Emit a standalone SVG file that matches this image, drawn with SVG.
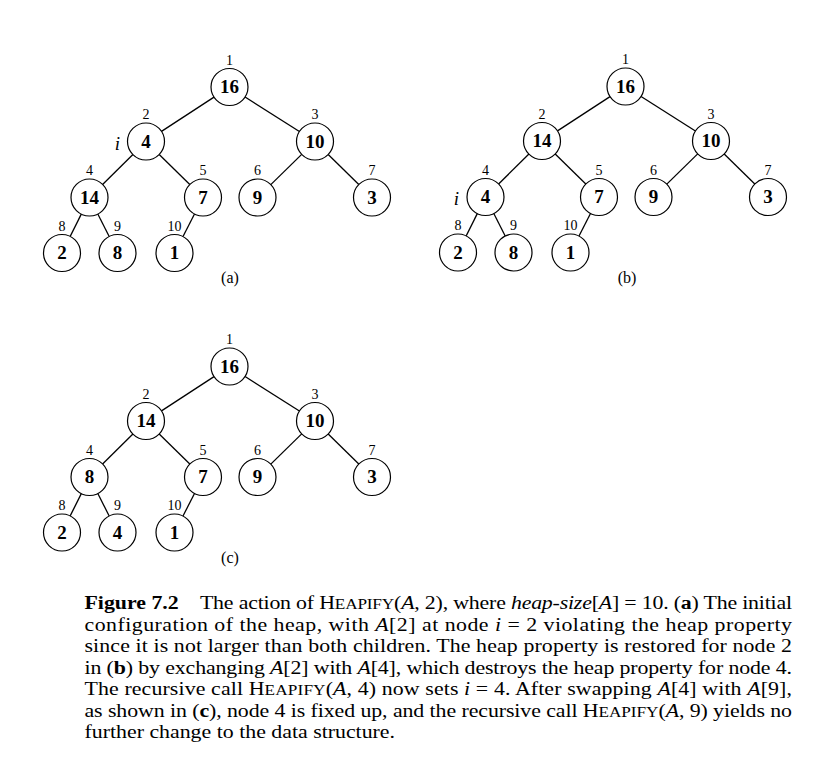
<svg xmlns="http://www.w3.org/2000/svg" width="836" height="771" viewBox="0 0 836 771">
<style>
  .edge { stroke: #000; stroke-width: 1.3; fill: none; }
  .node circle { fill: #fff; stroke: #000; stroke-width: 1.2; }
  .val { font-family: "Liberation Serif", "Times New Roman", serif; font-weight: bold; font-size: 19px; text-anchor: middle; fill: #000; }
  .idx { font-family: "Liberation Serif", "Times New Roman", serif; font-size: 14px; text-anchor: middle; fill: #000; }
  .iv { font-family: "Liberation Serif", "Times New Roman", serif; font-style: italic; font-size: 19px; text-anchor: middle; fill: #000; }
  .sub { font-family: "Liberation Serif", "Times New Roman", serif; font-size: 16px; text-anchor: middle; fill: #000; }
  .cap { font-family: "Liberation Serif", "Times New Roman", serif; font-size: 19px; fill: #000; }
  .it { font-style: italic; }
  .b { font-weight: bold; }
  .sc { font-size: 15px; }
</style>
<rect width="836" height="771" fill="#fff"/>

<g id="connectors">
  <g id="edges-a">
    <line class="edge" x1="214.0" y1="97.1" x2="161.5" y2="131.4"/>
    <line class="edge" x1="245.1" y1="97.0" x2="299.4" y2="131.5"/>
    <line class="edge" x1="132.9" y1="154.5" x2="102.6" y2="184.5"/>
    <line class="edge" x1="159.2" y1="154.5" x2="189.8" y2="184.5"/>
    <line class="edge" x1="301.7" y1="154.4" x2="270.8" y2="184.6"/>
    <line class="edge" x1="328.2" y1="154.5" x2="358.8" y2="184.5"/>
    <line class="edge" x1="81.3" y1="214.1" x2="70.2" y2="236.4"/>
    <line class="edge" x1="97.8" y1="214.0" x2="109.2" y2="236.5"/>
    <line class="edge" x1="194.5" y1="214.0" x2="183.0" y2="236.5"/>
  </g>
  <g id="edges-b" transform="translate(396,-0.5)">
    <line class="edge" x1="214.0" y1="97.1" x2="161.5" y2="131.4"/>
    <line class="edge" x1="245.1" y1="97.0" x2="299.4" y2="131.5"/>
    <line class="edge" x1="132.9" y1="154.5" x2="102.6" y2="184.5"/>
    <line class="edge" x1="159.2" y1="154.5" x2="189.8" y2="184.5"/>
    <line class="edge" x1="301.7" y1="154.4" x2="270.8" y2="184.6"/>
    <line class="edge" x1="328.2" y1="154.5" x2="358.8" y2="184.5"/>
    <line class="edge" x1="81.3" y1="214.1" x2="70.2" y2="236.4"/>
    <line class="edge" x1="97.8" y1="214.0" x2="109.2" y2="236.5"/>
    <line class="edge" x1="194.5" y1="214.0" x2="183.0" y2="236.5"/>
  </g>
  <g id="edges-c" transform="translate(0,279.5)">
    <line class="edge" x1="214.0" y1="97.1" x2="161.5" y2="131.4"/>
    <line class="edge" x1="245.1" y1="97.0" x2="299.4" y2="131.5"/>
    <line class="edge" x1="132.9" y1="154.5" x2="102.6" y2="184.5"/>
    <line class="edge" x1="159.2" y1="154.5" x2="189.8" y2="184.5"/>
    <line class="edge" x1="301.7" y1="154.4" x2="270.8" y2="184.6"/>
    <line class="edge" x1="328.2" y1="154.5" x2="358.8" y2="184.5"/>
    <line class="edge" x1="81.3" y1="214.1" x2="70.2" y2="236.4"/>
    <line class="edge" x1="97.8" y1="214.0" x2="109.2" y2="236.5"/>
    <line class="edge" x1="194.5" y1="214.0" x2="183.0" y2="236.5"/>
  </g>
</g>

<!-- Tree (a) -->
<g id="tree-a">
  <g id="a-n1" class="node"><circle cx="229.5" cy="87" r="18.5"/><text class="val" x="229.5" y="93.4">16</text><text class="idx" x="229.5" y="64.5">1</text></g>
  <g id="a-n2" class="node"><circle cx="146" cy="141.5" r="18.5"/><text class="val" x="146" y="147.9">4</text><text class="idx" x="146" y="119">2</text></g>
  <g id="a-n3" class="node"><circle cx="315" cy="141.5" r="18.5"/><text class="val" x="315" y="147.9">10</text><text class="idx" x="315" y="119">3</text></g>
  <g id="a-n4" class="node"><circle cx="89.5" cy="197.5" r="18.5"/><text class="val" x="89.5" y="203.9">14</text><text class="idx" x="89.5" y="175">4</text></g>
  <g id="a-n5" class="node"><circle cx="203" cy="197.5" r="18.5"/><text class="val" x="203" y="203.9">7</text><text class="idx" x="203" y="175">5</text></g>
  <g id="a-n6" class="node"><circle cx="257.5" cy="197.5" r="18.5"/><text class="val" x="257.5" y="203.9">9</text><text class="idx" x="257.5" y="175">6</text></g>
  <g id="a-n7" class="node"><circle cx="372" cy="197.5" r="18.5"/><text class="val" x="372" y="203.9">3</text><text class="idx" x="372" y="175">7</text></g>
  <g id="a-n8" class="node"><circle cx="62" cy="253" r="18.5"/><text class="val" x="62" y="259.4">2</text><text class="idx" x="62" y="230.5">8</text></g>
  <g id="a-n9" class="node"><circle cx="117.5" cy="253" r="18.5"/><text class="val" x="117.5" y="259.4">8</text><text class="idx" x="117.5" y="230.5">9</text></g>
  <g id="a-n10" class="node"><circle cx="174.5" cy="253" r="18.5"/><text class="val" x="174.5" y="259.4">1</text><text class="idx" x="174.5" y="230.5">10</text></g>
  <text id="a-i" class="iv" x="117.5" y="149.5">i</text>
  <text id="a-label" class="sub" x="230" y="283">(a)</text>
</g>

<!-- Tree (b) -->
<g id="tree-b" transform="translate(396,-0.5)">
  <g id="b-n1" class="node"><circle cx="229.5" cy="87" r="18.5"/><text class="val" x="229.5" y="93.4">16</text><text class="idx" x="229.5" y="64.5">1</text></g>
  <g id="b-n2" class="node"><circle cx="146" cy="141.5" r="18.5"/><text class="val" x="146" y="147.9">14</text><text class="idx" x="146" y="119">2</text></g>
  <g id="b-n3" class="node"><circle cx="315" cy="141.5" r="18.5"/><text class="val" x="315" y="147.9">10</text><text class="idx" x="315" y="119">3</text></g>
  <g id="b-n4" class="node"><circle cx="89.5" cy="197.5" r="18.5"/><text class="val" x="89.5" y="203.9">4</text><text class="idx" x="89.5" y="175">4</text></g>
  <g id="b-n5" class="node"><circle cx="203" cy="197.5" r="18.5"/><text class="val" x="203" y="203.9">7</text><text class="idx" x="203" y="175">5</text></g>
  <g id="b-n6" class="node"><circle cx="257.5" cy="197.5" r="18.5"/><text class="val" x="257.5" y="203.9">9</text><text class="idx" x="257.5" y="175">6</text></g>
  <g id="b-n7" class="node"><circle cx="372" cy="197.5" r="18.5"/><text class="val" x="372" y="203.9">3</text><text class="idx" x="372" y="175">7</text></g>
  <g id="b-n8" class="node"><circle cx="62" cy="253" r="18.5"/><text class="val" x="62" y="259.4">2</text><text class="idx" x="62" y="230.5">8</text></g>
  <g id="b-n9" class="node"><circle cx="117.5" cy="253" r="18.5"/><text class="val" x="117.5" y="259.4">8</text><text class="idx" x="117.5" y="230.5">9</text></g>
  <g id="b-n10" class="node"><circle cx="174.5" cy="253" r="18.5"/><text class="val" x="174.5" y="259.4">1</text><text class="idx" x="174.5" y="230.5">10</text></g>
  <text id="b-i" class="iv" x="60.5" y="205.5">i</text>
  <text id="b-label" class="sub" x="231" y="283.5">(b)</text>
</g>

<!-- Tree (c) -->
<g id="tree-c" transform="translate(0,279.5)">
  <g id="c-n1" class="node"><circle cx="229.5" cy="87" r="18.5"/><text class="val" x="229.5" y="93.4">16</text><text class="idx" x="229.5" y="64.5">1</text></g>
  <g id="c-n2" class="node"><circle cx="146" cy="141.5" r="18.5"/><text class="val" x="146" y="147.9">14</text><text class="idx" x="146" y="119">2</text></g>
  <g id="c-n3" class="node"><circle cx="315" cy="141.5" r="18.5"/><text class="val" x="315" y="147.9">10</text><text class="idx" x="315" y="119">3</text></g>
  <g id="c-n4" class="node"><circle cx="89.5" cy="197.5" r="18.5"/><text class="val" x="89.5" y="203.9">8</text><text class="idx" x="89.5" y="175">4</text></g>
  <g id="c-n5" class="node"><circle cx="203" cy="197.5" r="18.5"/><text class="val" x="203" y="203.9">7</text><text class="idx" x="203" y="175">5</text></g>
  <g id="c-n6" class="node"><circle cx="257.5" cy="197.5" r="18.5"/><text class="val" x="257.5" y="203.9">9</text><text class="idx" x="257.5" y="175">6</text></g>
  <g id="c-n7" class="node"><circle cx="372" cy="197.5" r="18.5"/><text class="val" x="372" y="203.9">3</text><text class="idx" x="372" y="175">7</text></g>
  <g id="c-n8" class="node"><circle cx="62" cy="253" r="18.5"/><text class="val" x="62" y="259.4">2</text><text class="idx" x="62" y="230.5">8</text></g>
  <g id="c-n9" class="node"><circle cx="117.5" cy="253" r="18.5"/><text class="val" x="117.5" y="259.4">4</text><text class="idx" x="117.5" y="230.5">9</text></g>
  <g id="c-n10" class="node"><circle cx="174.5" cy="253" r="18.5"/><text class="val" x="174.5" y="259.4">1</text><text class="idx" x="174.5" y="230.5">10</text></g>
  <text id="c-label" class="sub" x="230" y="283.5">(c)</text>
</g>

<!-- Caption (glyphs widened to match the scanned face) -->
<g id="caption" transform="translate(84.5,0) scale(1.15,1) translate(-84.5,0)">
  <text class="cap b" x="84.5" y="609.5">Figure 7.2</text>
  <text class="cap" x="184.9" y="609.5" textLength="514.8" lengthAdjust="spacing">The action of H<tspan class="sc">EAPIFY</tspan>(<tspan class="it">A</tspan>, 2), where <tspan class="it">heap-size</tspan>[<tspan class="it">A</tspan>] = 10. (<tspan class="b">a</tspan>) The initial</text>
  <text class="cap" x="84.5" y="631" textLength="615.2" lengthAdjust="spacing">configuration of the heap, with <tspan class="it">A</tspan>[2] at node <tspan class="it">i</tspan> = 2 violating the heap property</text>
  <text class="cap" x="84.5" y="652.5" textLength="615.2" lengthAdjust="spacing">since it is not larger than both children. The heap property is restored for node 2</text>
  <text class="cap" x="84.5" y="674" textLength="615.2" lengthAdjust="spacing">in (<tspan class="b">b</tspan>) by exchanging <tspan class="it">A</tspan>[2] with <tspan class="it">A</tspan>[4], which destroys the heap property for node 4.</text>
  <text class="cap" x="84.5" y="695.5" textLength="615.2" lengthAdjust="spacing">The recursive call H<tspan class="sc">EAPIFY</tspan>(<tspan class="it">A</tspan>, 4) now sets <tspan class="it">i</tspan> = 4. After swapping <tspan class="it">A</tspan>[4] with <tspan class="it">A</tspan>[9],</text>
  <text class="cap" x="84.5" y="717" textLength="615.2" lengthAdjust="spacing">as shown in (<tspan class="b">c</tspan>), node 4 is fixed up, and the recursive call H<tspan class="sc">EAPIFY</tspan>(<tspan class="it">A</tspan>, 9) yields no</text>
  <text class="cap" x="84.5" y="738.5">further change to the data structure.</text>
</g>
</svg>
